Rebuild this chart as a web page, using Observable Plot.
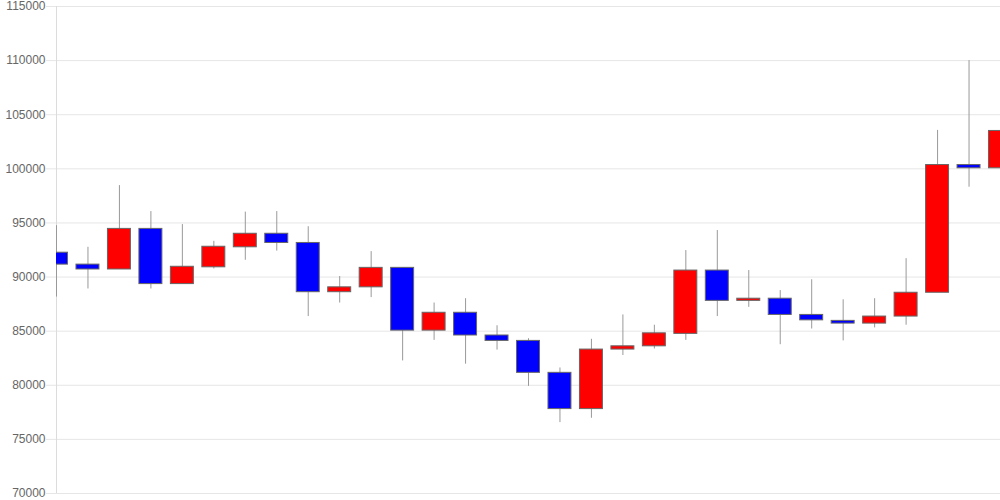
<!DOCTYPE html>
<html>
<head>
<meta charset="utf-8">
<script src="https://cdn.jsdelivr.net/npm/d3@7"></script>
<script src="https://cdn.jsdelivr.net/npm/@observablehq/plot@0.6"></script>
<style>
  html, body { margin: 0; padding: 0; background: #fff; }
  #chart { width: 1000px; height: 500px; }
</style>
</head>
<body>
<div id="chart"></div>
<script>
// Candle values (index 0..30)
const opens  = [92250, 91150, 90700, 94450, 89350, 90900, 92750, 94000, 93150, 88600, 89050, 90850, 85050, 86700, 84600, 84100, 81150, 77800, 83300, 83600, 84750, 90600, 87800, 88000, 86500, 85950, 85700, 86350, 88550, 100350, 100050];
const closes = [91150, 90700, 94450, 89350, 90950, 92800, 94000, 93150, 88600, 89050, 90850, 85050, 86700, 84600, 84100, 81150, 77800, 83300, 83600, 84800, 90600, 87800, 88000, 86500, 86000, 85700, 86350, 88550, 100350, 100050, 103500];
const highs  = [94750, 92750, 98450, 96050, 94850, 93300, 96000, 96050, 94650, 90050, 92350, 90850, 87600, 88000, 85500, 84300, 81600, 84250, 86500, 85550, 92450, 94300, 90600, 88750, 89750, 87900, 88000, 91700, 103550, 110000, 103900];
const lows   = [88150, 88900, 90700, 88900, 89350, 90750, 91550, 92400, 86350, 87600, 88100, 82250, 84150, 81950, 83250, 79900, 76550, 76950, 82750, 83350, 84150, 86350, 87200, 83750, 85200, 84100, 85300, 85550, 88550, 98300, 98300];
const yTicks = [70000, 75000, 80000, 85000, 90000, 95000, 100000, 105000, 110000, 115000];

const data = opens.map((o, i) => ({i, open: o, close: closes[i], high: highs[i], low: lows[i]}));

const chart = Plot.plot({
  width: 1000,
  height: 500,
  marginLeft: 56,
  marginRight: 0,
  marginTop: 6,
  marginBottom: 7,
  style: {fontFamily: "'Liberation Sans', Arial, sans-serif", fontSize: "12px", background: "#fff"},
  x: {type: "linear", domain: [0, opens.length - 1], axis: null},
  y: {domain: [70000, 115000], axis: null},
  marks: [
    Plot.ruleY(yTicks, {stroke: "#e6e6e6", strokeWidth: 1, x1: 0, x2: opens.length - 1}),
    Plot.axisY(yTicks, {tickSize: 10, tickPadding: 1, stroke: "#e6e6e6", strokeOpacity: 1, fill: "#666", fontSize: 12, tickFormat: d3.format("d")}),
    Plot.ruleX([0], {stroke: "#dcdcdc"}),
    Plot.ruleX(data, {x: "i", y1: "low", y2: "high", stroke: "#999", strokeWidth: 1, clip: true}),
    Plot.rect(data, {
      x1: d => d.i - 0.365,
      x2: d => d.i + 0.365,
      y1: "open",
      y2: "close",
      fill: d => d.close >= d.open ? "#ff0000" : "#0000ff",
      stroke: "#666",
      strokeWidth: 1,
      clip: true
    })
  ]
});
document.getElementById("chart").appendChild(chart);
</script>
</body>
</html>
